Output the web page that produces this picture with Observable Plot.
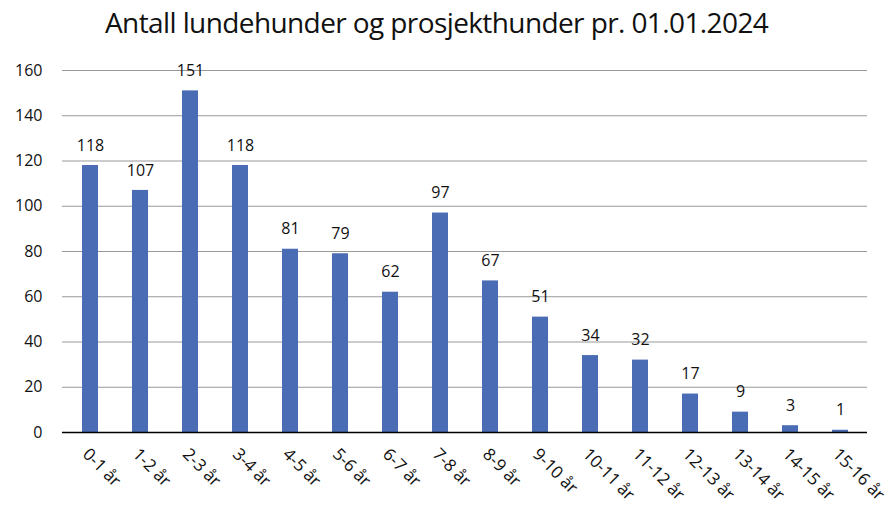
<!DOCTYPE html>
<html><head><meta charset="utf-8">
<script src="https://cdn.jsdelivr.net/npm/d3@7"></script>
<script src="https://cdn.jsdelivr.net/npm/@observablehq/plot@0.6"></script>
<style>
body{margin:0;background:#fff;font-family:"Open Sans",sans-serif;}
#title{height:45px;line-height:44px;font-size:28px;padding-left:105px;color:#111;letter-spacing:-0.6px;font-family:"Open Sans",sans-serif;}
</style></head>
<body><div id="title">Antall lundehunder og prosjekthunder pr. 01.01.2024</div><div id="chart"></div>
<script>
const categories = ["0-1 år","1-2 år","2-3 år","3-4 år","4-5 år","5-6 år","6-7 år","7-8 år","8-9 år","9-10 år","10-11 år","11-12 år","12-13 år","13-14 år","14-15 år","15-16 år"];
const counts = [118,107,151,118,81,79,62,97,67,51,34,32,17,9,3,1];
const yTicks = [0,20,40,60,80,100,120,140,160];
const data = categories.map((c,i)=>({cat:c, n:counts[i]}));
const plot = Plot.plot({
  width: 896, height: 461,
  marginLeft: 62, marginRight: 29, marginTop: 25, marginBottom: 74,
  style: {fontFamily: "'Open Sans', sans-serif", fontSize: "15px", color: "#111", overflow: "visible"},
  x: {domain: categories, paddingInner: 0.69, paddingOuter: 0.345, label: null},
  y: {domain: [0,160], label: null},
  marks: [
    Plot.gridY(yTicks, {stroke: "#999", strokeOpacity: 1, strokeWidth: 1}),
    Plot.axisY(yTicks, {tickSize: 0, tickPadding: 20, fontSize: 16, label: null}),
    Plot.barY(data, {x: "cat", y: "n", fill: "#4a6cb5"}),
    Plot.ruleY([0], {stroke: "#000", strokeWidth: 1.5}),
    Plot.text(data, {x: "cat", y: "n", text: d => String(d.n), dy: -20, fontSize: 16, fill: "#111"}),
    Plot.axisX({tickSize: 0, tickRotate: 45, tickPadding: 19, fontSize: 17, textAnchor: "start", dx: -5, label: null})
  ]
});
document.getElementById("chart").appendChild(plot);
</script></body></html>
